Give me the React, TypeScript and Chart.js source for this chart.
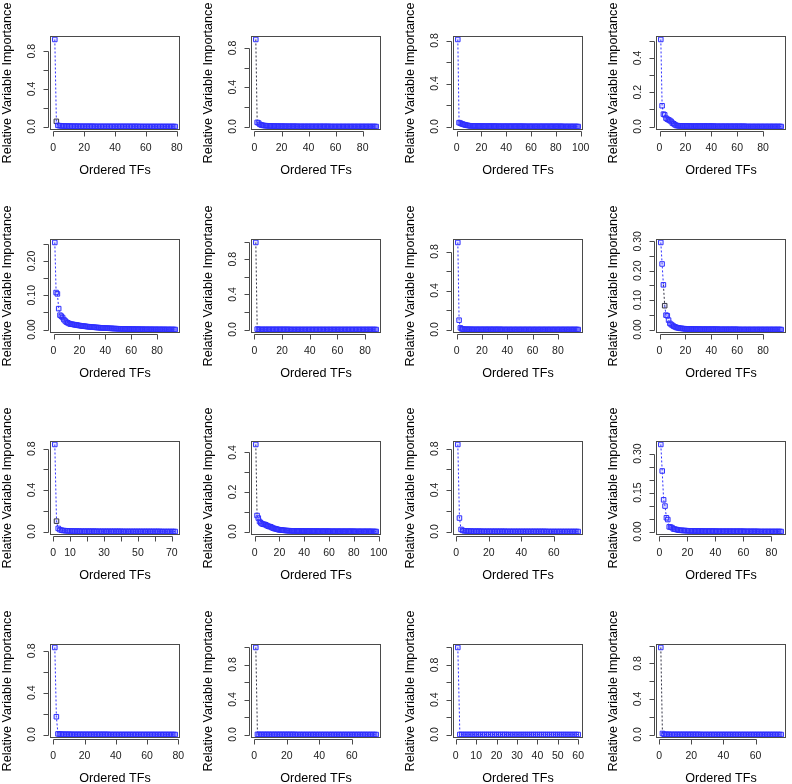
import { useEffect, useRef } from "react";
import { Chart, registerables } from "chart.js";
Chart.register(...registerables);

const X_TITLE = "Ordered TFs";
const Y_TITLE = "Relative Variable Importance";

const P1 = [
  0.925, 0.055, 0.012, 0.009, 0.007, 0.006, 0.005, 0.005, 0.004, 0.004,
  0.004, 0.003, 0.003, 0.003, 0.003, 0.003, 0.002, 0.002, 0.002, 0.002,
  0.002, 0.002, 0.002, 0.002, 0.002, 0.002, 0.001, 0.001, 0.001, 0.001,
  0.001, 0.001, 0.001, 0.001, 0.001, 0.001, 0.001, 0.001, 0.001, 0.001,
  0.001, 0.001, 0.001, 0.001, 0.001, 0.001, 0.001, 0.001, 0.001, 0.001,
  0.001, 0.001, 0.001, 0.001, 0.001, 0, 0, 0, 0, 0,
  0, 0, 0, 0, 0, 0, 0, 0, 0, 0,
  0, 0, 0, 0, 0, 0, 0, 0, 0,
];
const P2 = [
  0.886, 0.042, 0.036, 0.022, 0.016, 0.012, 0.01, 0.009, 0.008, 0.007,
  0.006, 0.006, 0.005, 0.005, 0.004, 0.004, 0.004, 0.003, 0.003, 0.003,
  0.003, 0.003, 0.002, 0.002, 0.002, 0.002, 0.002, 0.002, 0.002, 0.002,
  0.002, 0.001, 0.001, 0.001, 0.001, 0.001, 0.001, 0.001, 0.001, 0.001,
  0.001, 0.001, 0.001, 0.001, 0.001, 0.001, 0.001, 0.001, 0.001, 0.001,
  0.001, 0.001, 0.001, 0.001, 0.001, 0, 0, 0, 0, 0,
  0, 0, 0, 0, 0, 0, 0, 0, 0, 0,
  0, 0, 0, 0, 0, 0, 0, 0, 0, 0,
  0, 0, 0, 0, 0, 0, 0, 0, 0, 0,
];
const P3 = [
  0.81, 0.036, 0.032, 0.026, 0.022, 0.018, 0.015, 0.012, 0.01, 0.008,
  0.007, 0.006, 0.006, 0.005, 0.005, 0.005, 0.004, 0.004, 0.004, 0.004,
  0.003, 0.003, 0.003, 0.003, 0.003, 0.003, 0.003, 0.003, 0.003, 0.003,
  0.003, 0.003, 0.002, 0.002, 0.002, 0.002, 0.002, 0.002, 0.002, 0.002,
  0.002, 0.002, 0.002, 0.002, 0.002, 0.002, 0.002, 0.002, 0.002, 0.002,
  0.002, 0.002, 0.002, 0.002, 0.001, 0.001, 0.001, 0.001, 0.001, 0.001,
  0.001, 0.001, 0.001, 0.001, 0.001, 0.001, 0.001, 0.001, 0.001, 0.001,
  0.001, 0.001, 0.001, 0.001, 0.001, 0.001, 0.001, 0.001, 0.001, 0.001,
  0.001, 0.001, 0.001, 0.001, 0.001, 0, 0, 0, 0, 0,
  0, 0, 0, 0, 0, 0, 0, 0,
];
const P4 = [
  0.507, 0.121, 0.072, 0.068, 0.049, 0.043, 0.039, 0.035, 0.029, 0.02,
  0.016, 0.01, 0.006, 0.005, 0.004, 0.004, 0.004, 0.003, 0.003, 0.003,
  0.003, 0.003, 0.002, 0.002, 0.002, 0.002, 0.002, 0.002, 0.002, 0.002,
  0.002, 0.002, 0.002, 0.002, 0.002, 0.002, 0.002, 0.002, 0.002, 0.002,
  0.002, 0.002, 0.001, 0.001, 0.001, 0.001, 0.001, 0.001, 0.001, 0.001,
  0.001, 0.001, 0.001, 0.001, 0.001, 0.001, 0.001, 0.001, 0.001, 0.001,
  0.001, 0.001, 0.001, 0.001, 0.001, 0.001, 0, 0, 0, 0,
  0, 0, 0, 0, 0, 0, 0, 0, 0, 0,
  0, 0, 0, 0, 0, 0, 0, 0, 0, 0,
  0, 0, 0, 0,
];
const P5 = [
  0.254, 0.108, 0.104, 0.061, 0.042, 0.039, 0.035, 0.029, 0.025, 0.0215,
  0.0196, 0.0176, 0.016, 0.0155, 0.015, 0.0142, 0.0135, 0.013, 0.0122, 0.0117,
  0.011, 0.0105, 0.01, 0.0096, 0.009, 0.0086, 0.0082, 0.0078, 0.0074, 0.007,
  0.0067, 0.0064, 0.0061, 0.0058, 0.0055, 0.0052, 0.005, 0.0047, 0.0045, 0.0042,
  0.004, 0.0038, 0.0036, 0.0034, 0.0032, 0.003, 0.0028, 0.0026, 0.0025, 0.0023,
  0.0022, 0.002, 0.0019, 0.0018, 0.0017, 0.0016, 0.0015, 0.0014, 0.0013, 0.0012,
  0.0011, 0.001, 0.001, 0.0009, 0.0009, 0.0008, 0.0008, 0.0007, 0.0007, 0.0006,
  0.0006, 0.0005, 0.0005, 0.0005, 0.0004, 0.0004, 0.0004, 0.0003, 0.0003, 0.0003,
  0.0003, 0.0002, 0.0002, 0.0002, 0.0002, 0.0002, 0.0001, 0.0001, 0.0001, 0.0001,
  0.0001, 0, 0, 0,
];
const P6 = [
  0.99, 0.005, 0.002, 0.001, 0.001, 0.001, 0.001, 0.001, 0.001, 0.001,
  0.001, 0.001, 0.001, 0.001, 0.001, 0.001, 0.001, 0.001, 0.001, 0.001,
  0.001, 0.001, 0.001, 0.001, 0.001, 0, 0, 0, 0, 0,
  0, 0, 0, 0, 0, 0, 0, 0, 0, 0,
  0, 0, 0, 0, 0, 0, 0, 0, 0, 0,
  0, 0, 0, 0, 0, 0, 0, 0, 0, 0,
  0, 0, 0, 0, 0, 0, 0, 0, 0, 0,
  0, 0, 0, 0, 0, 0, 0, 0, 0, 0,
  0, 0, 0, 0, 0, 0, 0, 0,
];
const P7 = [
  0.893, 0.096, 0.017, 0.007, 0.004, 0.003, 0.003, 0.002, 0.002, 0.002,
  0.002, 0.001, 0.001, 0.001, 0.001, 0.001, 0.001, 0.001, 0.001, 0.001,
  0.001, 0.001, 0.001, 0.001, 0.001, 0.001, 0.001, 0.001, 0.001, 0.001,
  0.001, 0.001, 0.001, 0.001, 0.001, 0, 0, 0, 0, 0,
  0, 0, 0, 0, 0, 0, 0, 0, 0, 0,
  0, 0, 0, 0, 0, 0, 0, 0, 0, 0,
  0, 0, 0, 0, 0, 0, 0, 0, 0, 0,
  0, 0, 0, 0, 0, 0, 0, 0, 0, 0,
  0, 0, 0, 0, 0, 0, 0, 0, 0, 0,
  0, 0, 0, 0, 0, 0,
];
const P8 = [
  0.296, 0.223, 0.152, 0.081, 0.049, 0.047, 0.032, 0.021, 0.017, 0.014,
  0.011, 0.009, 0.007, 0.006, 0.005, 0.004, 0.004, 0.003, 0.003, 0.002,
  0.002, 0.002, 0.002, 0.002, 0.002, 0.0015, 0.0015, 0.0015, 0.0015, 0.0015,
  0.001, 0.001, 0.001, 0.001, 0.001, 0.001, 0.001, 0.001, 0.001, 0.001,
  0.001, 0.001, 0.001, 0.001, 0.001, 0.0005, 0.0005, 0.0005, 0.0005, 0.0005,
  0.0005, 0.0005, 0.0005, 0.0005, 0.0005, 0.0005, 0.0005, 0.0005, 0.0005, 0.0005,
  0, 0, 0, 0, 0, 0, 0, 0, 0, 0,
  0, 0, 0, 0, 0, 0, 0, 0, 0, 0,
  0, 0, 0, 0, 0, 0, 0, 0, 0, 0,
  0, 0, 0, 0,
];
const P9 = [
  0.84, 0.1, 0.03, 0.018, 0.012, 0.01, 0.008, 0.007, 0.006, 0.005,
  0.005, 0.004, 0.004, 0.004, 0.004, 0.003, 0.003, 0.003, 0.003, 0.003,
  0.003, 0.003, 0.003, 0.003, 0.003, 0.002, 0.002, 0.002, 0.002, 0.002,
  0.002, 0.002, 0.002, 0.002, 0.002, 0.002, 0.002, 0.002, 0.002, 0.002,
  0.001, 0.001, 0.001, 0.001, 0.001, 0.001, 0.001, 0.001, 0.001, 0.001,
  0.001, 0.001, 0.001, 0.001, 0.001, 0.001, 0.001, 0.001, 0.001, 0.001,
  0.001, 0.001, 0.001, 0, 0, 0, 0, 0, 0, 0,
  0, 0,
];
const P10 = [
  0.44, 0.081, 0.068, 0.051, 0.044, 0.039, 0.037, 0.036, 0.034, 0.03,
  0.027, 0.025, 0.024, 0.02, 0.017, 0.015, 0.0135, 0.012, 0.01, 0.0085,
  0.0078, 0.007, 0.0065, 0.006, 0.005, 0.0047, 0.0044, 0.0041, 0.0038, 0.0035,
  0.0033, 0.0031, 0.003, 0.0028, 0.0027, 0.0026, 0.0025, 0.0024, 0.0023, 0.0022,
  0.0021, 0.002, 0.002, 0.002, 0.002, 0.002, 0.002, 0.002, 0.002, 0.002,
  0.0015, 0.0015, 0.0015, 0.0015, 0.0015, 0.0015, 0.0015, 0.0015, 0.0015, 0.0015,
  0.001, 0.001, 0.001, 0.001, 0.001, 0.001, 0.001, 0.001, 0.001, 0.001,
  0.001, 0.001, 0.001, 0.001, 0.001, 0.001, 0.001, 0.001, 0.001, 0.001,
  0.0005, 0.0005, 0.0005, 0.0005, 0.0005, 0.0005, 0.0005, 0.0005, 0.0005, 0.0005,
  0.0005, 0.0005, 0.0005, 0.0005, 0, 0, 0, 0,
];
const P11 = [
  0.84, 0.13, 0.02, 0.01, 0.007, 0.006, 0.005, 0.004, 0.004, 0.003,
  0.003, 0.003, 0.003, 0.003, 0.003, 0.002, 0.002, 0.002, 0.002, 0.002,
  0.002, 0.002, 0.002, 0.002, 0.002, 0.002, 0.002, 0.002, 0.002, 0.002,
  0.001, 0.001, 0.001, 0.001, 0.001, 0.001, 0.001, 0.001, 0.001, 0.001,
  0.001, 0.001, 0.001, 0.001, 0.001, 0.001, 0.001, 0.001, 0.001, 0.001,
  0.001, 0.001, 0.001, 0.001, 0.001, 0, 0, 0, 0, 0,
  0, 0, 0, 0, 0, 0, 0, 0, 0, 0,
  0, 0, 0, 0, 0,
];
const P12 = [
  0.335, 0.233, 0.122, 0.098, 0.053, 0.046, 0.018, 0.017, 0.015, 0.01,
  0.009, 0.008, 0.0064, 0.005, 0.0047, 0.0044, 0.004, 0.0037, 0.0034, 0.003,
  0.0028, 0.0026, 0.0024, 0.0022, 0.002, 0.002, 0.002, 0.002, 0.002, 0.002,
  0.0015, 0.0015, 0.0015, 0.0015, 0.0015, 0.0015, 0.0015, 0.0015, 0.0015, 0.0015,
  0.001, 0.001, 0.001, 0.001, 0.001, 0.001, 0.001, 0.001, 0.001, 0.001,
  0.001, 0.001, 0.001, 0.001, 0.001, 0.001, 0.001, 0.001, 0.001, 0.001,
  0.0005, 0.0005, 0.0005, 0.0005, 0.0005, 0.0005, 0.0005, 0.0005, 0.0005, 0.0005,
  0, 0, 0, 0, 0, 0, 0, 0, 0, 0,
  0, 0, 0, 0, 0, 0, 0,
];
const P13 = [
  0.832, 0.17, 0.006, 0.004, 0.003, 0.003, 0.002, 0.002, 0.002, 0.002,
  0.002, 0.001, 0.001, 0.001, 0.001, 0.001, 0.001, 0.001, 0.001, 0.001,
  0.001, 0.001, 0.001, 0.001, 0.001, 0.001, 0.001, 0.001, 0.001, 0.001,
  0.001, 0.001, 0.001, 0.001, 0.001, 0, 0, 0, 0, 0,
  0, 0, 0, 0, 0, 0, 0, 0, 0, 0,
  0, 0, 0, 0, 0, 0, 0, 0, 0, 0,
  0, 0, 0, 0, 0, 0, 0, 0, 0, 0,
  0, 0, 0, 0, 0, 0, 0, 0,
];
const P14 = [
  0.995, 0.002, 0.001, 0.001, 0.001, 0.001, 0.001, 0.001, 0.001, 0.001,
  0.001, 0.001, 0.001, 0.001, 0.001, 0.001, 0.001, 0.001, 0.001, 0.001,
  0.001, 0.001, 0.001, 0.001, 0.001, 0, 0, 0, 0, 0,
  0, 0, 0, 0, 0, 0, 0, 0, 0, 0,
  0, 0, 0, 0, 0, 0, 0, 0, 0, 0,
  0, 0, 0, 0, 0, 0, 0, 0, 0, 0,
  0, 0, 0, 0, 0, 0, 0, 0, 0, 0,
  0, 0, 0, 0, 0,
];
const P15 = [
  1.0, 0.0005, 0.0005, 0.0005, 0.0005, 0.0005, 0.0005, 0.0005, 0.0005, 0.0005,
  0.0005, 0.0005, 0.0005, 0.0005, 0.0005, 0.0005, 0.0005, 0.0005, 0.0005, 0.0005,
  0.0005, 0.0005, 0.0005, 0.0005, 0.0005, 0, 0, 0, 0, 0,
  0, 0, 0, 0, 0, 0, 0, 0, 0, 0,
  0, 0, 0, 0, 0, 0, 0, 0, 0, 0,
  0, 0, 0, 0, 0, 0, 0, 0, 0, 0,
];
const P16 = [
  0.98, 0.012, 0.003, 0.002, 0.002, 0.002, 0.001, 0.001, 0.001, 0.001,
  0.001, 0.001, 0.001, 0.001, 0.001, 0.001, 0.001, 0.001, 0.001, 0.001,
  0.001, 0.001, 0.001, 0.001, 0.001, 0, 0, 0, 0, 0,
  0, 0, 0, 0, 0, 0, 0, 0, 0, 0,
  0, 0, 0, 0, 0, 0, 0, 0, 0, 0,
  0, 0, 0, 0, 0, 0, 0, 0, 0, 0,
  0, 0, 0, 0, 0, 0, 0, 0, 0, 0,
  0, 0, 0, 0, 0, 0,
];

const PANEL_VALUES = [P1, P2, P3, P4, P5, P6, P7, P8, P9, P10, P11, P12, P13, P14, P15, P16];

const XT_80 = [0, 20, 40, 60, 80];
const XL_80 = ["0", "20", "40", "60", "80"];
const XT_100 = [0, 20, 40, 60, 80, 100];
const XL_100 = ["0", "20", "40", "60", "80", "100"];
const XT_60 = [0, 20, 40, 60];
const XL_60 = ["0", "20", "40", "60"];
const XT_70 = [0, 10, 20, 30, 40, 50, 60, 70];
const XL_70 = ["0", "10", "", "30", "", "50", "", "70"];
const XT_60B = [0, 10, 20, 30, 40, 50, 60];
const XL_60B = ["0", "10", "20", "30", "40", "50", "60"];

const YT_08 = [0, 0.2, 0.4, 0.6, 0.8];
const YL_08 = ["0.0", "", "0.4", "", "0.8"];
const YT_10 = [0, 0.2, 0.4, 0.6, 0.8, 1.0];
const YL_10 = ["0.0", "", "0.4", "", "0.8", ""];
const YT_05 = [0, 0.1, 0.2, 0.3, 0.4, 0.5];
const YL_05 = ["0.0", "", "0.2", "", "0.4", ""];
const YT_04 = [0, 0.1, 0.2, 0.3, 0.4];
const YL_04 = ["0.0", "", "0.2", "", "0.4"];
const YT_025 = [0, 0.05, 0.1, 0.15, 0.2, 0.25];
const YL_025 = ["0.00", "", "0.10", "", "0.20", ""];
const YT_030 = [0, 0.05, 0.1, 0.15, 0.2, 0.25, 0.3];
const YL_030 = ["0.00", "", "0.10", "", "0.20", "", "0.30"];
const YL_030B = ["0.00", "", "", "0.15", "", "", "0.30"];

const X_TICKS = [XT_80, XT_80, XT_100, XT_80, XT_80, XT_80, XT_80, XT_80, XT_70, XT_100, XT_60, XT_80, XT_80, XT_60, XT_60B, XT_60];
const X_LABELS = [XL_80, XL_80, XL_100, XL_80, XL_80, XL_80, XL_80, XL_80, XL_70, XL_100, XL_60, XL_80, XL_80, XL_60, XL_60B, XL_60];
const Y_TICKS = [YT_08, YT_08, YT_08, YT_05, YT_025, YT_10, YT_08, YT_030, YT_08, YT_04, YT_08, YT_030, YT_08, YT_10, YT_10, YT_10];
const Y_LABELS = [YL_08, YL_08, YL_08, YL_05, YL_025, YL_10, YL_08, YL_030, YL_08, YL_04, YL_08, YL_030B, YL_08, YL_10, YL_10, YL_10];

// segment (start index) drawn dark, and point index drawn dark, per panel (-1 = none)
const DARK_SEGMENT = [-1, 0, -1, -1, -1, 0, -1, 2, -1, 0, -1, -1, -1, 0, -1, 0];
const DARK_POINT = [1, -1, -1, -1, -1, -1, -1, 3, 1, -1, -1, -1, -1, -1, -1, -1];

const COL_LEFT = [0, 201, 403, 606];
const ROW_TOP = [0, 203, 405, 608];
const CW = 202;
const CH = 203;
const FONT = '"Liberation Sans", Arial, Helvetica, sans-serif';
const BLUE = "#2f2fff";
const DARK = "#333344";

const rAxesPlugin = {
  id: "rAxes",
  afterDraw(chart: any, _args: any, opts: any) {
    const idx = opts.idx as number;
    const { ctx, chartArea: a, scales } = chart;
    const xs = scales.x;
    const ys = scales.y;
    const L = Math.round(a.left), T = Math.round(a.top), R = Math.round(a.right), B = Math.round(a.bottom);
    ctx.save();
    ctx.strokeStyle = "#4a4a4a";
    ctx.lineWidth = 1;
    ctx.setLineDash([]);
    ctx.strokeRect(L + 0.5, T + 0.5, R - L - 1, B - T - 1);

    // x axis
    const xt = X_TICKS[idx];
    const xl = X_LABELS[idx];
    const ay = B + 1.5;
    const x0 = Math.round(xs.getPixelForValue(xt[0])) + 0.5;
    const x1 = Math.round(xs.getPixelForValue(xt[xt.length - 1])) + 0.5;
    ctx.beginPath();
    ctx.moveTo(x0, ay);
    ctx.lineTo(x1, ay);
    for (const v of xt) {
      const px = Math.round(xs.getPixelForValue(v)) + 0.5;
      ctx.moveTo(px, ay);
      ctx.lineTo(px, ay + 5);
    }
    ctx.stroke();
    ctx.fillStyle = "#222";
    ctx.font = `10.5px ${FONT}`;
    ctx.textAlign = "center";
    ctx.textBaseline = "middle";
    xt.forEach((v, i) => {
      if (xl[i]) ctx.fillText(xl[i], xs.getPixelForValue(v), B + 18);
    });

    // y axis
    const yt = Y_TICKS[idx];
    const yl = Y_LABELS[idx];
    const ax = L - 1.5;
    const y0 = Math.round(ys.getPixelForValue(yt[0])) + 0.5;
    const y1 = Math.round(ys.getPixelForValue(yt[yt.length - 1])) + 0.5;
    ctx.beginPath();
    ctx.moveTo(ax, y0);
    ctx.lineTo(ax, y1);
    for (const v of yt) {
      const py = Math.round(ys.getPixelForValue(v)) + 0.5;
      ctx.moveTo(ax, py);
      ctx.lineTo(ax - 5, py);
    }
    ctx.stroke();
    yt.forEach((v, i) => {
      if (!yl[i]) return;
      ctx.save();
      ctx.translate(L - 18, ys.getPixelForValue(v));
      ctx.rotate(-Math.PI / 2);
      ctx.fillText(yl[i], 0, 0);
      ctx.restore();
    });

    // titles
    ctx.fillStyle = "#000";
    ctx.font = `12.6px ${FONT}`;
    ctx.fillText(X_TITLE, (L + R) / 2, B + 41);
    ctx.save();
    ctx.translate(L - 42, (T + B) / 2);
    ctx.rotate(-Math.PI / 2);
    ctx.fillText(Y_TITLE, 0, 0);
    ctx.restore();
    ctx.restore();
  },
};

function Panel({ idx }: { idx: number }) {
  const ref = useRef<HTMLCanvasElement>(null);
  useEffect(() => {
    const vals = PANEL_VALUES[idx];
    const n = vals.length;
    const xr = (n - 1) * 0.04;
    const ymax = Math.max(...vals);
    const ymin = Math.min(...vals);
    const yr = (ymax - ymin) * 0.04;
    const darkSeg = DARK_SEGMENT[idx];
    const darkPt = DARK_POINT[idx];
    const chart = new Chart(ref.current as HTMLCanvasElement, {
      type: "line",
      data: {
        datasets: [
          {
            data: vals.map((v, i) => ({ x: i + 1, y: v })),
            borderColor: BLUE,
            borderWidth: 1,
            borderDash: [2, 2],
            segment: {
              borderColor: (c: any) => (c.p0DataIndex === darkSeg ? DARK : BLUE),
            },
            pointStyle: "rect",
            pointRadius: 3.2,
            pointBorderWidth: 1,
            pointBorderColor: vals.map((_, i) => (i === darkPt ? DARK : BLUE)),
            pointBackgroundColor: "rgba(80,80,255,0.12)",
            tension: 0,
          },
        ],
      },
      options: {
        animation: false,
        responsive: false,
        devicePixelRatio: 1,
        events: [],
        layout: { padding: { left: 50, top: 36, right: 22, bottom: 73 } },
        scales: {
          x: { type: "linear", min: 1 - xr, max: n + xr, display: false },
          y: { type: "linear", min: ymin - yr, max: ymax + yr, display: false },
        },
        plugins: {
          legend: { display: false },
          tooltip: { enabled: false },
          rAxes: { idx },
        } as any,
      },
      plugins: [rAxesPlugin],
    });
    return () => chart.destroy();
  }, [idx]);
  const col = idx % 4;
  const row = Math.floor(idx / 4);
  return (
    <canvas
      ref={ref}
      width={CW}
      height={CH}
      style={{ position: "absolute", left: COL_LEFT[col], top: ROW_TOP[row], width: CW, height: CH }}
    />
  );
}

export default function App() {
  return (
    <div
      style={{
        position: "fixed",
        left: 0,
        top: 0,
        width: 792,
        height: 784,
        overflow: "hidden",
        background: "#fff",
      }}
    >
      {PANEL_VALUES.map((_, i) => (
        <Panel key={i} idx={i} />
      ))}
    </div>
  );
}
